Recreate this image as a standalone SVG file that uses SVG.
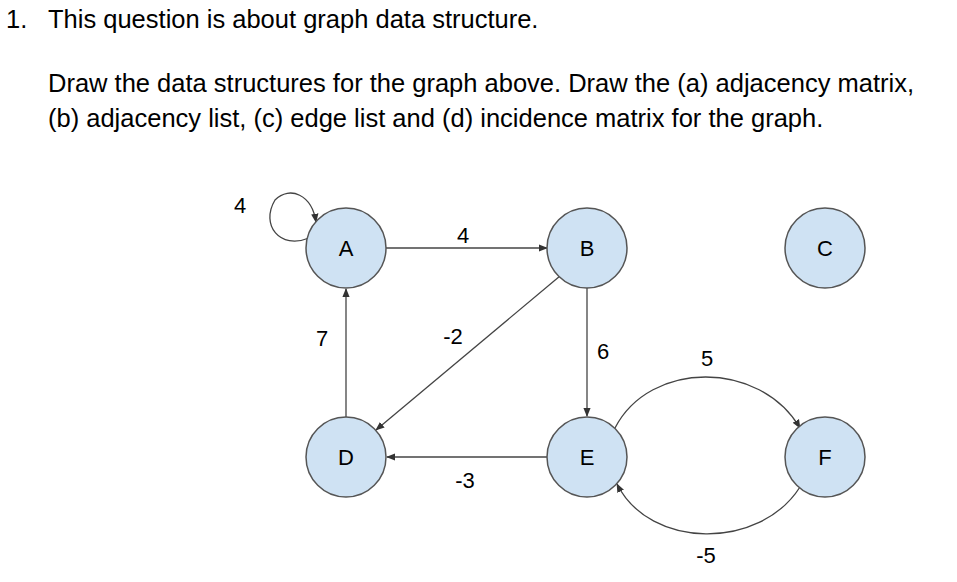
<svg xmlns="http://www.w3.org/2000/svg" width="957" height="582" viewBox="0 0 957 582">
<defs>
<marker id="ah" viewBox="0 0 10 10" refX="9" refY="5" markerWidth="7" markerHeight="7" orient="auto"><path d="M0,1 L10,5 L0,9 z" fill="#333"/></marker>
<style>
.t{font-family:"Liberation Sans",Arial,sans-serif;font-size:25.5px;fill:#000}
.n circle{fill:#cfe2f3;stroke:#555;stroke-width:1.5}
.n text{font-family:"Liberation Sans",Arial,sans-serif;font-size:22px;text-anchor:middle;fill:#000}
.e{fill:none;stroke:#444;stroke-width:1.3;marker-end:url(#ah)}
.l{font-family:"Liberation Sans",Arial,sans-serif;font-size:22px;text-anchor:middle;fill:#000}
</style>
</defs>
<rect width="957" height="582" fill="#fff"/>
<text class="t" x="6" y="28">1.</text>
<text class="t" x="48" y="28">This question is about graph data structure.</text>
<text class="t" x="48" y="92">Draw the data structures for the graph above. Draw the (a) adjacency matrix,</text>
<text class="t" x="48" y="127">(b) adjacency list, (c) edge list and (d) incidence matrix for the graph.</text>
<g id="connectors">
<path class="e" d="M386,248 L547,248"/>
<path class="e" d="M346,417 L346,289"/>
<path class="e" d="M560,276 L376,430"/>
<path class="e" d="M587,288 L587,416"/>
<path class="e" d="M547,457 L387,457"/>
<path class="e" d="M615,428 C650,360 760,360 800,428"/>
<path class="e" d="M800,487 C760,550 650,550 617,484"/>
<path class="e" d="M309,238 C280,250 260,225 275,200 C290,185 312,195 316,222"/>
<text class="l" x="463" y="243">4</text>
<text class="l" x="240" y="213">4</text>
<text class="l" x="322" y="346">7</text>
<text class="l" x="453" y="344">-2</text>
<text class="l" x="603" y="359">6</text>
<text class="l" x="707" y="366">5</text>
<text class="l" x="465" y="488">-3</text>
<text class="l" x="706" y="563">-5</text>
</g>
<g id="A" class="n"><circle cx="346" cy="248" r="40"/><text x="346" y="256">A</text></g>
<g id="B" class="n"><circle cx="587" cy="248" r="40"/><text x="587" y="256">B</text></g>
<g id="C" class="n"><circle cx="825" cy="248" r="40"/><text x="825" y="256">C</text></g>
<g id="D" class="n"><circle cx="346" cy="457" r="40"/><text x="346" y="465">D</text></g>
<g id="E" class="n"><circle cx="587" cy="457" r="40"/><text x="587" y="465">E</text></g>
<g id="F" class="n"><circle cx="825" cy="457" r="40"/><text x="825" y="465">F</text></g>
</svg>
